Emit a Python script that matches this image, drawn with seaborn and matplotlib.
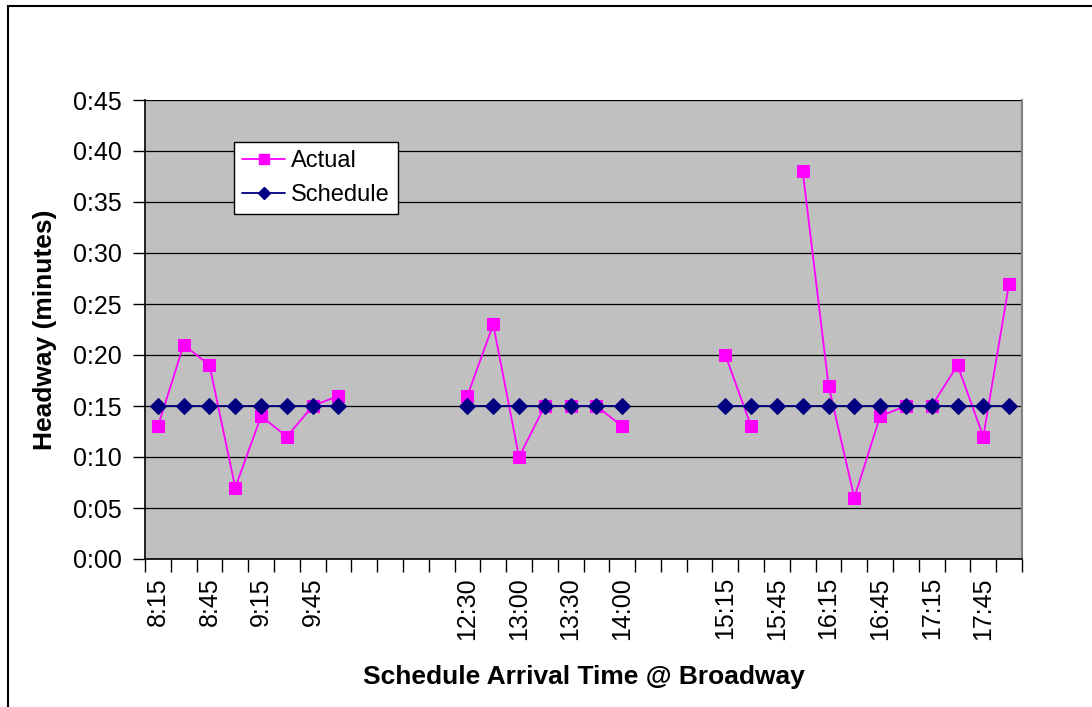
import numpy as np
import pandas as pd
import matplotlib
matplotlib.use("Agg")
import matplotlib.pyplot as plt
from matplotlib.lines import Line2D
from matplotlib.patches import Rectangle
from matplotlib.ticker import FixedLocator, FuncFormatter
import seaborn as sns

# category slots (blank strings are empty gap slots on the axis)
times = ["8:15", "8:30", "8:45", "9:00", "9:15", "9:30", "9:45", "10:00",
         "", "", "", "",
         "12:30", "12:45", "13:00", "13:15", "13:30", "13:45", "14:00",
         "", "", "",
         "15:15", "15:30", "15:45", "16:00", "16:15", "16:30", "16:45",
         "17:00", "17:15", "17:30", "17:45", "18:00"]

# headways in minutes, None = no observation
actual = [13, 21, 19, 7, 14, 12, 15, 16,
          None, None, None, None,
          16, 23, 10, 15, 15, 15, 13,
          None, None, None,
          20, 13, None, 38, 17, 6, 14, 15, 15, 19, 12, 27]
schedule = [15, 15, 15, 15, 15, 15, 15, 15,
            None, None, None, None,
            15, 15, 15, 15, 15, 15, 15,
            None, None, None,
            15, 15, 15, 15, 15, 15, 15, 15, 15, 15, 15, 15]

sns.set_style("white")
plt.rcParams["font.family"] = ["Liberation Sans", "DejaVu Sans"]
plt.rcParams["text.color"] = "black"
plt.rcParams["axes.labelcolor"] = "black"
plt.rcParams["xtick.color"] = "black"
plt.rcParams["ytick.color"] = "black"


def to_frame(values):
    # split into runs so lines break at missing values
    rows, seg = [], 0
    prev = False
    for i, v in enumerate(values):
        if v is None:
            if prev:
                seg += 1
            prev = False
            continue
        rows.append({"x": i, "y": v, "seg": seg})
        prev = True
    return pd.DataFrame(rows)


df_act = to_frame(actual)
df_sch = to_frame(schedule)

fig = plt.figure(figsize=(10.92, 7.07), dpi=100, facecolor="white")
ax = fig.add_axes([145 / 1092, 1 - 559 / 707, 877 / 1092, 459 / 707])
ax.set_facecolor("#C0C0C0")

pink = "#FF00FF"
navy = "#000080"

sns.lineplot(data=df_sch, x="x", y="y", units="seg", estimator=None, ax=ax,
             color=navy, lw=1.3, marker="D", markersize=8,
             markeredgecolor=navy, zorder=3, legend=False)
sns.lineplot(data=df_act, x="x", y="y", units="seg", estimator=None, ax=ax,
             color=pink, lw=1.3, marker="s", markersize=8,
             markeredgecolor=pink, zorder=2, legend=False)

ax.set_xlim(-0.5, len(times) - 0.5)
ax.set_ylim(0, 45)

# y axis
ax.set_yticks(np.arange(0, 46, 5))
ax.yaxis.set_major_formatter(FuncFormatter(lambda v, p: f"0:{int(v):02d}"))
ax.grid(axis="y", color="black", lw=0.9)
ax.set_axisbelow(True)

# x axis: labels on every other category, ticks at category boundaries
lab_pos = list(range(0, len(times), 2))
ax.set_xticks(lab_pos)
ax.set_xticklabels([times[i] for i in lab_pos], rotation=90)
ax.xaxis.set_minor_locator(FixedLocator(np.arange(-0.5, len(times), 1)))
ax.tick_params(axis="x", which="major", length=0, pad=13, labelsize=18)
ax.tick_params(axis="x", which="minor", length=9, width=1, color="black",
               direction="out", bottom=True)
ax.tick_params(axis="y", which="major", length=9, width=1, color="black",
               direction="out", left=True, labelsize=18, pad=8)

for s in ["left", "bottom"]:
    ax.spines[s].set_color("black")
    ax.spines[s].set_linewidth(1.2)
ax.spines["top"].set_visible(False)
ax.spines["right"].set_color("#808080")
ax.spines["right"].set_linewidth(1.5)

ax.set_xlabel("Schedule Arrival Time @ Broadway", fontsize=19,
              fontweight="bold", labelpad=18)
ax.set_ylabel("Headway (minutes)", fontsize=19, fontweight="bold",
              labelpad=11)

handles = [
    Line2D([], [], color=pink, lw=1.3, marker="s", markersize=7,
           markeredgecolor=pink),
    Line2D([], [], color=navy, lw=1.3, marker="D", markersize=6,
           markeredgecolor=navy),
]
leg = ax.legend(handles, ["Actual", "Schedule"], loc="upper left",
                bbox_to_anchor=(89 / 877, 417 / 459), borderaxespad=0,
                fontsize=17, frameon=True, fancybox=False, framealpha=1,
                edgecolor="black", handlelength=1.8, handletextpad=0.25,
                labelspacing=0.5, borderpad=0.35)
leg.get_frame().set_linewidth(1)

# outer chart-area frame
fig.patches.append(Rectangle((8 / 1092, -0.1), 1.2, 1.1 - 6 / 707,
                             transform=fig.transFigure, fill=False,
                             edgecolor="black", lw=1.5))

fig.savefig("out.png", dpi=100, facecolor="white")
